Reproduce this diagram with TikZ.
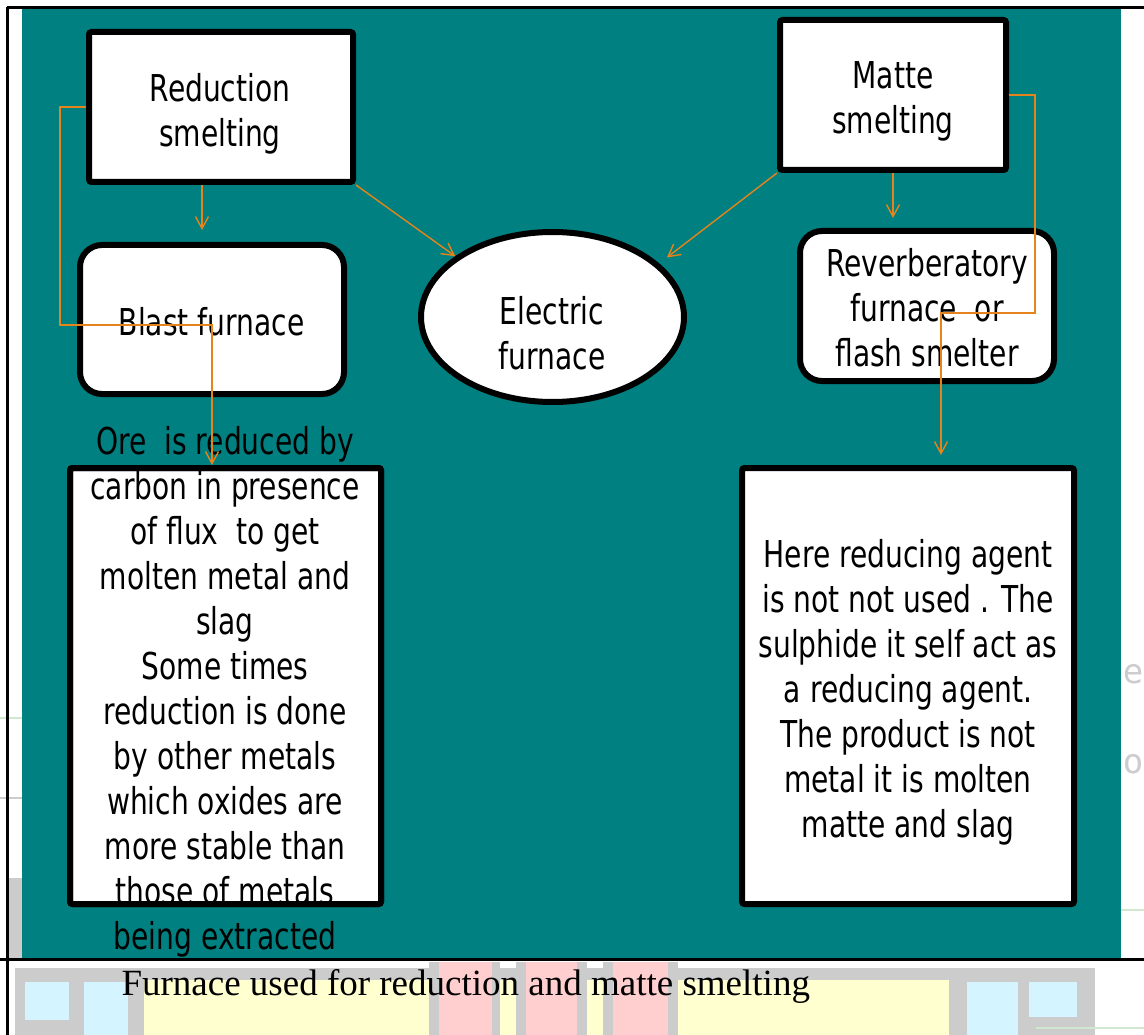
\documentclass[tikz,border=0pt]{standalone}
\usepackage{fontspec}
\setmainfont{Liberation Serif}
\newfontfamily\slidefont{DejaVu Sans}[FakeStretch=0.76]
\newfontfamily\scanfont{DejaVu Sans Mono}
\usetikzlibrary{arrows.meta,shapes.geometric}
\definecolor{slideteal}{RGB}{0,128,128}
\definecolor{arrowor}{RGB}{228,132,26}
\definecolor{bggrey}{RGB}{204,204,204}
\definecolor{bgyellow}{RGB}{255,255,208}
\definecolor{bgpink}{RGB}{255,206,206}
\definecolor{bgblue}{RGB}{212,244,255}
\definecolor{bggreen}{RGB}{208,232,208}
\begin{document}
\begin{tikzpicture}[x=1pt,y=-1pt,
  box/.style={draw=black, fill=white, line width=6pt, rounded corners=2.5pt, inner sep=0pt},
  rbox/.style={box, rounded corners=22pt},
  txt/.style={font=\slidefont\fontsize{37}{45}\selectfont, align=center, inner sep=0pt, text=black},
  arr/.style={draw=arrowor, line width=1.4pt, -{Straight Barb[length=12pt,width=13pt]}}]
\useasboundingbox (0,0) rectangle (1144,1035);
\fill[white] (0,0) rectangle (1144,1035);
% scan background below and beside the slide
\fill[bggrey] (15,968) rectangle (1095,1035);
\fill[bgyellow] (144,980) rectangle (949,1035);
\fill[bggrey] (429,962) rectangle (500,1035);
\fill[bggrey] (516,962) rectangle (587,1035);
\fill[bggrey] (603,962) rectangle (678,1035);
\fill[bgpink] (439,962) rectangle (492,1035);
\fill[bgpink] (526,962) rectangle (577,1035);
\fill[bgpink] (613,962) rectangle (668,1035);
\fill[bgblue] (25,982) rectangle (69,1020);
\fill[bgblue] (84,982) rectangle (128,1035);
\fill[bgblue] (967,982) rectangle (1018,1035);
\fill[bgblue] (1029,982) rectangle (1077,1017);
\fill[bggrey] (8,878) rectangle (22,958);
\draw[bggreen, line width=2pt] (0,718) -- (22,718);
\draw[bggrey, line width=2pt] (0,798) -- (22,798);
\draw[bggreen, line width=2pt] (1121,910) -- (1144,910);
\draw[bggreen, line width=2pt] (1036,1028) -- (1144,1028);
\node[text=bggrey, font=\scanfont\fontsize{34}{34}\selectfont, anchor=base] (ge) at (1133,683) {e};
\node[text=bggrey, font=\scanfont\fontsize{34}{34}\selectfont, anchor=base] (go) at (1133,773) {o};
% slide
\fill[slideteal] (22,8) rectangle (1121,958);
\draw[black, line width=2.2pt] (7,7.5) -- (1144,7.5);
\draw[black, line width=2.2pt] (7.5,7) -- (7.5,1035);
\draw[black, line width=2.2pt] (0,959.5) -- (1144,959.5);
\node[anchor=base west, font=\fontsize{37}{44}\selectfont] (cap) at (118,995) {Furnace used for reduction and matte smelting};
% boxes
\node[box, minimum width=264pt, minimum height=150pt] (red) at (221,107) {};
\node[txt] (redt) at (220,114) {Reduction\\smelting};
\node[box, minimum width=226pt, minimum height=150pt] (mat) at (893,95) {};
\node[txt] (matt) at (893,101.5) {Matte\\smelting};
\node[rbox, minimum width=264pt, minimum height=149pt] (bf) at (212,319.5) {};
\node[txt] (bft) at (211.5,321.5) {Blast furnace};
\node[ellipse, draw=black, fill=white, line width=6pt, minimum width=263pt, minimum height=170pt, inner sep=0pt] (ef) at (552.5,317) {};
\node[txt] (eft) at (552,333) {Electric\\furnace};
\node[rbox, minimum width=254pt, minimum height=150pt] (rev) at (927,306) {};
\node[txt] (revt) at (927,308) {Reverberatory\\furnace~ or\\flash smelter};
\node[box, minimum width=311pt, minimum height=436pt] (lbox) at (225.5,686) {};
\node[txt] (lboxt) at (225,692) {Ore~ is reduced by\\carbon in presence\\of flux~ to get\\molten metal and\\slag\\Some times\\reduction is done\\by other metals\\which oxides are\\more stable than\\those of metals\\being extracted};
\node[box, fill=none, minimum width=311pt, minimum height=436pt] (lframe) at (lbox.center) {};
\node[box, minimum width=332pt, minimum height=436pt] (rbox) at (908,686) {};
\node[txt] (rboxt) at (908,692) {Here reducing agent\\is not not used . The\\sulphide it self act as\\a reducing agent.\\The product is not\\metal it is molten\\matte and slag};
% connectors
\draw[arr] ([xshift=-19pt]red.south) -- ([xshift=-10pt,yshift=12pt]bf.north);
\draw[arr] (red.south east) -- (ef.148);
\draw[arr] (mat.south west) -- ([shift={(10pt,4pt)}]ef.28);
\draw[arr] (mat.south) -- ([xshift=-34pt,yshift=10pt]rev.north);
\draw[arr] (red.west) -- ++(-26,0) -- ++(0,218) -| ([xshift=-13.5pt]lbox.north);
\draw[arr] (mat.east) -- ++(26,0) -- ++(0,218) -| ([xshift=33pt,yshift=10pt]rbox.north);
\end{tikzpicture}
\end{document}
